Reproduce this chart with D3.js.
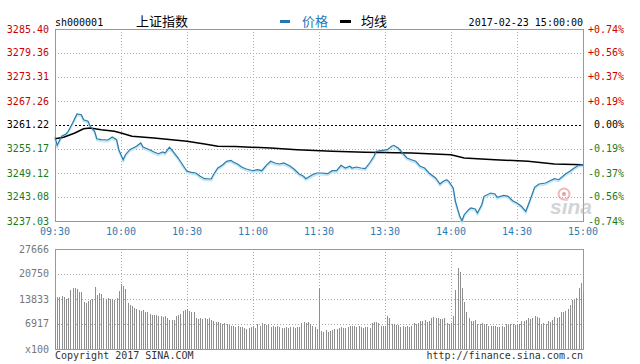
<!DOCTYPE html>
<html>
<head>
<meta charset="utf-8">
<script src="https://cdn.jsdelivr.net/npm/d3@7"></script>
<style>
  body { margin: 0; background: #fff; }
  text { font-family: "DejaVu Sans Mono", monospace; font-size: 10px; }
  .cjk { font-family: "Noto Sans CJK SC", sans-serif; font-size: 13px; }
</style>
</head>
<body>
<div id="visualization"></div>
<script>
// minute index 0..240 (09:30-11:30, 13:00-15:00)
let timeLabels = ['09:30', '10:00', '10:30', '11:00', '11:30', '13:30', '14:00', '14:30', '15:00']

let prevClose = 3261.22
let priceTicks = [3285.40, 3279.36, 3273.31, 3267.26, 3261.22, 3255.17, 3249.12, 3243.08, 3237.03]
let pctTicks = ['+0.74%', '+0.56%', '+0.37%', '+0.19%', '0.00%', '-0.19%', '-0.37%', '-0.56%', '-0.74%']
let volTicks = [27666, 20750, 13833, 6917]

let priceMinutes = [0, 1, 3, 5, 6, 8, 10, 12, 13, 15, 16, 18, 19, 21, 24, 26, 28, 29, 31, 32, 34, 37, 39, 40, 43, 45, 47, 49, 50, 52, 53, 56, 58, 60, 62, 64, 66, 68, 71, 72, 74, 76, 78, 80, 81, 83, 85, 87, 90, 92, 94, 96, 98, 100, 102, 104, 107, 109, 111, 113, 114, 117, 119, 121, 124, 126, 128, 130, 132, 134, 135, 137, 139, 141, 143, 145, 146, 149, 151, 153, 154, 156, 158, 160, 162, 164, 166, 168, 170, 173, 175, 176, 178, 179, 181, 182, 184, 185, 186, 188, 189, 191, 192, 194, 195, 198, 200, 201, 204, 206, 208, 210, 212, 214, 216, 218, 220, 223, 225, 227, 229, 232, 234, 236, 238, 240]
let priceValues = [3258.12, 3256.10, 3258.37, 3258.95, 3259.63, 3261.72, 3263.99, 3263.81, 3262.55, 3262.15, 3260.89, 3259.63, 3257.76, 3257.51, 3257.44, 3258.19, 3257.51, 3254.99, 3252.47, 3253.73, 3254.99, 3255.85, 3256.68, 3255.67, 3254.99, 3254.41, 3253.98, 3254.41, 3254.16, 3255.60, 3254.99, 3252.90, 3251.21, 3249.55, 3249.30, 3249.12, 3248.29, 3247.69, 3247.61, 3248.69, 3250.38, 3251.06, 3252.07, 3252.32, 3251.89, 3251.39, 3250.56, 3250.13, 3249.70, 3249.95, 3249.70, 3251.06, 3252.07, 3251.64, 3251.39, 3251.64, 3250.81, 3249.95, 3248.87, 3248.29, 3247.69, 3248.69, 3249.12, 3249.12, 3248.95, 3249.70, 3249.70, 3251.06, 3250.38, 3250.81, 3250.38, 3250.63, 3250.38, 3250.21, 3251.64, 3253.33, 3254.59, 3254.84, 3254.99, 3255.85, 3256.10, 3255.42, 3254.16, 3252.90, 3252.47, 3252.07, 3250.81, 3250.38, 3249.12, 3247.86, 3246.35, 3246.86, 3247.43, 3247.03, 3245.34, 3241.99, 3238.21, 3237.11, 3238.62, 3239.88, 3240.30, 3240.05, 3239.05, 3241.14, 3243.25, 3244.08, 3243.83, 3243.00, 3243.50, 3243.25, 3242.14, 3241.56, 3240.73, 3239.47, 3242.40, 3245.52, 3246.35, 3246.60, 3247.18, 3247.69, 3247.43, 3248.87, 3249.55, 3250.38, 3251.06, 3251.21]

let avgMinutes = [0, 4, 9, 13, 16, 21, 27, 30, 35, 45, 60, 68, 74, 82, 98, 110, 126, 141, 162, 180, 186, 200, 215, 227, 240]
let avgValues = [3257.76, 3258.12, 3259.20, 3260.28, 3260.46, 3260.03, 3259.63, 3259.20, 3258.37, 3257.94, 3257.11, 3256.43, 3255.85, 3255.80, 3255.42, 3254.99, 3254.59, 3254.34, 3254.16, 3253.73, 3252.90, 3252.47, 3252.07, 3251.39, 3251.21]

let volumeValues = [
  14200, 14500, 14300, 14600, 14300, 13900, 14000, 16200, 16800, 17000,
  16500, 15800, 15900, 13000, 12800, 13400, 13600, 13900, 17100, 15000,
  15600, 15200, 14000, 13700, 14100, 13900, 13800, 13600, 14000, 16000,
  18000, 17400, 16600, 12800, 12300, 11800, 11400, 11200, 10800, 10600,
  10900, 10200, 10100, 9800, 9500, 9300, 9400, 9000, 9100, 8800,
  9000, 8700, 8100, 7900, 8000, 9200, 9500, 9700, 10400, 10900,
  11000, 10500, 10300, 10100, 8600, 8400, 8700, 8200, 8500, 8300,
  8600, 7900, 7700, 7500, 7600, 7200, 7000, 7100, 6900, 6600,
  6400, 6300, 6200, 6400, 6100, 6000, 5800, 5600, 5900, 6100,
  6300, 5800, 7000, 6400, 7100, 6900, 6600, 7000, 6200, 6400,
  6000, 6300, 6100, 5800, 5900, 6200, 5700, 6000, 6100, 5800,
  6000, 6200, 7300, 7500, 7200, 7400, 7000, 6400, 6100, 5600,
  17000, 5000, 4800, 5200, 4700, 5100, 5300, 5500, 5600, 5900,
  6000, 5700, 5900, 6200, 6400, 6300, 6500, 6200, 6400, 6000,
  5900, 6100, 6000, 5800, 7300, 7500, 7400, 7200, 6400, 6300,
  6500, 9100, 8500, 6900, 6800, 6700, 6600, 6200, 6400, 6000,
  6300, 6100, 6500, 7100, 7000, 7200, 7800, 7700, 7900, 7600,
  7800, 8700, 8800, 8600, 8500, 8400, 8300, 8500, 7100, 7000,
  7200, 9100, 16300, 22300, 21400, 16800, 13000, 10300, 8500, 7800,
  7700, 7900, 7000, 6900, 7100, 7000, 6800, 6400, 6500, 6300,
  6400, 6200, 6100, 6300, 6200, 6800, 6700, 6900, 6800, 6600,
  6900, 6800, 7800, 7700, 7900, 8500, 8400, 8600, 9100, 8800,
  8700, 7000, 7100, 6900, 7800, 7600, 7900, 8800, 8700, 8900,
  10300, 10200, 10400, 11200, 12200, 13500, 13600, 14200, 16800, 18300,
  15600
]

let width = 640
let height = 364
let left = 55
let right = 583

let tickColor = (i) => i < 4 ? '#cc0000' : (i == 4 ? '#000' : '#1c7a1c')

let svg = d3.select('#visualization')
            .append('svg')
              .attr('width', width)
              .attr('height', height)

let xScale = d3.scaleLinear()
              .domain([0, 240])
              .range([left, right])

let yScale = d3.scaleLinear()
              .domain([priceTicks[priceTicks.length - 1], priceTicks[0]])
              .range([221, 29])

let vScale = d3.scaleLinear()
              .domain([0, volTicks[0]])
              .range([349, 249])

let tickMinutes = timeLabels.map((d, i) => i * 30)

// panels: grid and frame
let drawGrid = (top, bottom, rows) => {
  svg.append('g')
    .selectAll('line')
    .data(tickMinutes.slice(1, -1))
    .enter()
    .append('line')
      .attr('x1', (d) => Math.round(xScale(d)) + 0.5)
      .attr('x2', (d) => Math.round(xScale(d)) + 0.5)
      .attr('y1', top)
      .attr('y2', bottom)
      .attr('stroke', '#aaa')
      .attr('stroke-dasharray', '1,2')

  svg.append('g')
    .selectAll('line')
    .data(rows)
    .enter()
    .append('line')
      .attr('x1', left)
      .attr('x2', right)
      .attr('y1', (d) => Math.round(d.y) + 0.5)
      .attr('y2', (d) => Math.round(d.y) + 0.5)
      .attr('stroke', (d) => d.base ? '#000' : '#aaa')
      .attr('stroke-dasharray', (d) => d.base ? '2,2' : '1,2')

  svg.append('rect')
    .attr('x', left + 0.5)
    .attr('y', top + 0.5)
    .attr('width', right - left)
    .attr('height', bottom - top)
    .attr('fill', 'none')
    .attr('stroke', '#999')
}

drawGrid(29, 221, priceTicks.slice(1, -1).map((p) => ({ y: yScale(p), base: p == prevClose })))
drawGrid(249, 349, volTicks.slice(1).map((v) => ({ y: vScale(v), base: false })))

// watermark
let mark = svg.append('g').attr('opacity', 0.6)
mark.append('circle')
  .attr('cx', 564).attr('cy', 194).attr('r', 5.5)
  .attr('fill', 'none').attr('stroke', '#e58a8a').attr('stroke-width', 2)
mark.append('circle')
  .attr('cx', 564).attr('cy', 194).attr('r', 2)
  .attr('fill', '#d86060')
mark.append('text')
  .text('sina')
  .attr('x', 550)
  .attr('y', 214)
  .style('font-family', '"Liberation Sans", Arial, sans-serif')
  .style('font-size', '21px')
  .style('font-weight', 'bold')
  .style('font-style', 'italic')
  .attr('fill', '#b8b8b8')

// volume bars
svg.append('g')
  .selectAll('rect')
  .data(volumeValues)
  .enter()
  .append('rect')
    .attr('x', (d, i) => Math.round(xScale(i)))
    .attr('y', (d) => Math.round(vScale(d)))
    .attr('width', 1)
    .attr('height', (d) => 349 - Math.round(vScale(d)))
    .attr('fill', '#8e8e8e')

// price and average lines
let priceData = priceMinutes.map((m, i) => [m, priceValues[i]])
let avgData = avgMinutes.map((m, i) => [m, avgValues[i]])

let line = d3.line()
            .x((d) => xScale(d[0]))
            .y((d) => yScale(d[1]))

svg.append('path')
  .attr('d', line(priceData))
  .attr('transform', 'translate(0,1.5)')
  .attr('fill', 'none')
  .attr('stroke', '#c4e8f8')
  .attr('stroke-width', 2)

svg.append('path')
  .attr('d', line(avgData))
  .attr('fill', 'none')
  .attr('stroke', '#000')
  .attr('stroke-width', 1.5)

svg.append('path')
  .attr('d', line(priceData))
  .attr('fill', 'none')
  .attr('stroke', '#2b7aa8')
  .attr('stroke-width', 1.2)

// axis labels
svg.append('g')
  .selectAll('text')
  .data(priceTicks)
  .enter()
  .append('text')
    .text((d) => d.toFixed(2))
    .attr('x', 49)
    .attr('y', (d) => yScale(d))
    .attr('dy', '0.35em')
    .attr('text-anchor', 'end')
    .attr('fill', (d, i) => tickColor(i))

svg.append('g')
  .selectAll('text')
  .data(pctTicks)
  .enter()
  .append('text')
    .text((d) => d)
    .attr('x', 624)
    .attr('y', (d, i) => yScale(priceTicks[i]))
    .attr('dy', '0.35em')
    .attr('text-anchor', 'end')
    .attr('fill', (d, i) => tickColor(i))

svg.append('g')
  .selectAll('text')
  .data(timeLabels)
  .enter()
  .append('text')
    .text((d) => d)
    .attr('x', (d, i) => xScale(tickMinutes[i]))
    .attr('y', 235)
    .attr('text-anchor', 'middle')
    .attr('fill', '#2b7db8')

svg.append('g')
  .selectAll('text')
  .data(volTicks)
  .enter()
  .append('text')
    .text((d) => d)
    .attr('x', 49)
    .attr('y', (d) => vScale(d))
    .attr('dy', '0.35em')
    .attr('text-anchor', 'end')
    .attr('fill', '#777')

svg.append('text')
  .text('x100')
  .attr('x', 49)
  .attr('y', 349)
  .attr('dy', '0.35em')
  .attr('text-anchor', 'end')
  .attr('fill', '#777')

// header
svg.append('text').text('sh000001').attr('x', 55).attr('y', 26).attr('fill', '#000')
svg.append('text').text('上证指数').attr('class', 'cjk').attr('x', 136).attr('y', 26).attr('fill', '#000')
svg.append('rect').attr('x', 280).attr('y', 20).attr('width', 10).attr('height', 3).attr('fill', '#1f78b4')
svg.append('text').text('价格').attr('class', 'cjk').attr('x', 302).attr('y', 26).attr('fill', '#1f78b4')
svg.append('rect').attr('x', 340).attr('y', 20).attr('width', 11).attr('height', 3).attr('fill', '#000')
svg.append('text').text('均线').attr('class', 'cjk').attr('x', 361).attr('y', 26).attr('fill', '#000')
svg.append('text').text('2017-02-23 15:00:00').attr('x', 583).attr('y', 26).attr('text-anchor', 'end').attr('fill', '#000')

// footer
svg.append('text').text('Copyright 2017 SINA.COM').attr('x', 55).attr('y', 359).attr('fill', '#333')
svg.append('text').text('http://finance.sina.com.cn').attr('x', 583).attr('y', 359).attr('text-anchor', 'end').attr('fill', '#333')
</script>
</body>
</html>
